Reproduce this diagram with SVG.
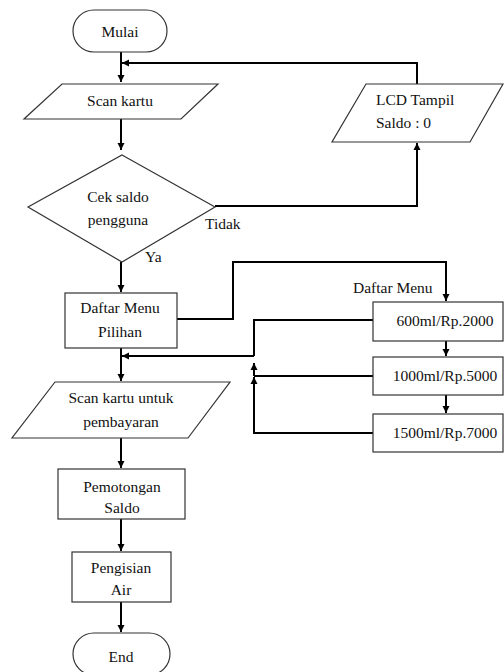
<svg xmlns="http://www.w3.org/2000/svg" width="504" height="672" viewBox="0 0 504 672">
<style>
.s{fill:#fff;stroke:#333;stroke-width:1.2}
text{font-family:'Liberation Serif','DejaVu Serif','Times New Roman',serif;font-size:15.5px;fill:#111;text-anchor:middle}
text.l{text-anchor:start}
.c{fill:none;stroke:#000;stroke-width:2}
</style>
<defs>
<marker id="a" markerUnits="userSpaceOnUse" markerWidth="8" markerHeight="8" refX="7" refY="4" orient="auto">
<path d="M0,0.5 L7,4 L0,7.5 Z" fill="#000"/>
</marker>
</defs>
<rect width="504" height="672" fill="#fff"/>
<g id="connectors">
<path class="c" d="M121,52 V82" marker-end="url(#a)"/>
<path class="c" d="M121,119 V150" marker-end="url(#a)"/>
<path class="c" d="M215,206 H417 V143" marker-end="url(#a)"/>
<path class="c" d="M417,84 V63 H122" marker-end="url(#a)"/>
<path class="c" d="M121,262 V292" marker-end="url(#a)"/>
<path class="c" d="M177,319 H233 V262 H446 V301" marker-end="url(#a)"/>
<path class="c" d="M446,341 V356" marker-end="url(#a)"/>
<path class="c" d="M446,395 V413" marker-end="url(#a)"/>
<path class="c" d="M373,320 H254 V356"/>
<path class="c" d="M373,376 H254"/>
<path class="c" d="M373,433 H254 V377" marker-end="url(#a)"/>
<path class="c" d="M254,376 V363" marker-end="url(#a)"/>
<path class="c" d="M254,356 H122" marker-end="url(#a)"/>
<path class="c" d="M121,348 V381" marker-end="url(#a)"/>
<path class="c" d="M121,438 V468" marker-end="url(#a)"/>
<path class="c" d="M121,519 V551" marker-end="url(#a)"/>
<path class="c" d="M121,602 V632" marker-end="url(#a)"/>
</g>
<g id="mulai">
<rect class="s" x="73" y="10" width="94" height="42" rx="21"/>
<text x="120" y="37" font-family="Liberation Serif, serif">Mulai</text>
</g>
<g id="scan">
<path class="s" d="M62,84 H218 L181,119 H24 Z"/>
<text x="120" y="106">Scan kartu</text>
</g>
<g id="cek">
<path class="s" d="M122,155 L215,207 L122,262 L28,207 Z"/>
<text x="118" y="202">Cek saldo</text>
<text x="118" y="225">pengguna</text>
</g>
<text class="l" x="205" y="229">Tidak</text>
<text class="l" x="145" y="262">Ya</text>
<g id="lcd">
<path class="s" d="M366,84 H503 L470,142 H332 Z"/>
<text class="l" x="376" y="105">LCD Tampil</text>
<text class="l" x="376" y="128">Saldo : 0</text>
</g>
<g id="daftar">
<rect class="s" x="65" y="293" width="112" height="55"/>
<text x="120" y="313">Daftar Menu</text>
<text x="120" y="337">Pilihan</text>
</g>
<text class="l" x="353" y="293">Daftar Menu</text>
<g id="m600">
<rect class="s" x="373" y="302" width="130" height="39"/>
<text x="445" y="326">600ml/Rp.2000</text>
</g>
<g id="m1000">
<rect class="s" x="373" y="357" width="130" height="38"/>
<text x="445" y="381">1000ml/Rp.5000</text>
</g>
<g id="m1500">
<rect class="s" x="373" y="414" width="130" height="38"/>
<text x="445" y="438">1500ml/Rp.7000</text>
</g>
<g id="scanbayar">
<path class="s" d="M55,382 H230 L188,438 H12 Z"/>
<text x="121" y="403">Scan kartu untuk</text>
<text x="121" y="427">pembayaran</text>
</g>
<g id="potong">
<rect class="s" x="58" y="469" width="127" height="50"/>
<text x="122" y="492">Pemotongan</text>
<text x="122" y="513">Saldo</text>
</g>
<g id="isi">
<rect class="s" x="72" y="552" width="99" height="50"/>
<text x="121" y="573">Pengisian</text>
<text x="121" y="595">Air</text>
</g>
<g id="end">
<rect class="s" x="73" y="633" width="97" height="42" rx="21"/>
<text x="121" y="662">End</text>
</g>
</svg>
